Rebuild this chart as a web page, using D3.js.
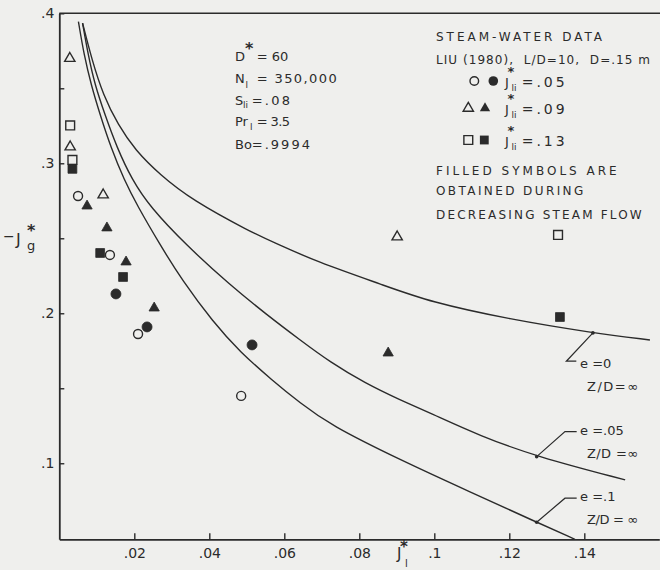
<!DOCTYPE html>
<html>
<head>
<meta charset="utf-8">
<script src="https://cdnjs.cloudflare.com/ajax/libs/d3/7.8.5/d3.min.js"></script>
<style>
body { margin: 0; background: #efefed; }
svg { display: block; }
text { font-family: "DejaVu Sans", "Liberation Sans", sans-serif; fill: #2b2b2b; }
</style>
</head>
<body>
<svg id="chart" width="660" height="570"></svg>
<script>
// axis ticks
var xTicks = [.02, .04, .06, .08, .1, .12, .14],
	yTicks = [.1, .15, .2, .25, .3, .35, .4],
	yLabelled = [.1, .2, .3, .4];

// model curves, [J_l*, -J_g*]
var curveE0 = [[.0062,.3935],[.0087,.3689],[.0117,.3455],[.0157,.3255],[.0202,.3089],[.0269,.2922],
	[.0354,.2755],[.0509,.2544],[.0575,.2469],[.0686,.2344],[.0863,.2189],[.0989,.2075],[.1200,.1960],
	[.1423,.1869],[.1575,.1822]];
var curveE05 = [[.0062,.3935],[.0077,.3722],[.0095,.3522],[.0122,.3322],[.0153,.3109],[.0194,.2889],
	[.0242,.2709],[.0338,.2455],[.0455,.2189],[.0554,.1989],[.0642,.1822],[.0722,.1675],[.0815,.1535],
	[.0909,.1422],[.0989,.1335],[.1122,.1182],[.1273,.1044],[.1509,.0889]];
var curveE10 = [[.0051,.3944],[.0066,.3722],[.0085,.3522],[.0109,.3322],[.0138,.3102],[.0173,.2889],
	[.0207,.2722],[.0269,.2455],[.0327,.2222],[.0410,.1942],[.0482,.1742],[.0567,.1555],[.0642,.1402],
	[.0722,.1255],[.0909,.1022],[.1095,.0809],[.1273,.0607],[.1375,.0493]];

// Liu (1980) steam-water data
var circOpen = [[.0050,.2782],[.0135,.2389],[.0210,.1862],[.0485,.1449]],
	circFilled = [[.0151,.2129],[.0234,.1909],[.0514,.1789]],
	triOpen = [[.0028,.3699],[.0029,.3109],[.0117,.2789],[.0901,.2509]],
	triFilled = [[.0074,.2715],[.0127,.2569],[.0178,.2342],[.0253,.2035],[.0877,.1735]],
	sqOpen = [[.0029,.3252],[.0035,.3022],[.1330,.2522]],
	sqFilled = [[.0035,.2963],[.0109,.2402],[.0170,.2242],[.1335,.1975]];

// where the curve labels point to
var labelPoints = [[.1423,.1869],[.1273,.1044],[.1273,.0607]],
	labelNames = ["e =0", "e =.05", "e =.1"];

var ink = "#2b2b2b", bg = "#efefed";

var svg = d3.select("#chart");

var x = d3.scaleLinear().domain([0, .16]).range([59.3, 659.3]),
	y = d3.scaleLinear().domain([.0493, .4]).range([539.3, 13.3]);

function fmt(d){
	return String(+d.toFixed(2)).replace(/^0/, "");
}

// x axis, ticks pointing up
var gx = svg.append("g")
	.attr("transform", "translate(0," + y(.0493) + ")")
	.call(d3.axisBottom(x).tickValues(xTicks).tickSizeInner(-6).tickSizeOuter(0).tickPadding(8).tickFormat(fmt));

// y axis, ticks pointing right
var gy = svg.append("g")
	.attr("transform", "translate(" + x(0) + ",0)")
	.call(d3.axisLeft(y).tickValues(yTicks).tickSizeInner(-5).tickSizeOuter(0).tickPadding(5)
		.tickFormat(function(d){ return yLabelled.some(function(v){ return Math.abs(v - d) < 1e-9; }) ? fmt(d) : ""; }));

[gx, gy].forEach(function(g){
	g.select(".domain").attr("stroke", ink).attr("stroke-width", 1.8);
	g.selectAll(".tick line").attr("stroke", ink).attr("stroke-width", 1.4);
	g.selectAll(".tick text").attr("fill", ink).style("font-size", "14px")
		.style("font-family", "'DejaVu Sans', sans-serif");
});
gx.selectAll(".tick text").attr("dy", "0.78em");

// top frame
svg.append("line")
	.attr("x1", x(0)).attr("x2", 660)
	.attr("y1", y(.4)).attr("y2", y(.4))
	.attr("stroke", ink).attr("stroke-width", 1.6);

// axis titles
svg.append("text").attr("x", 3).attr("y", 241).style("font-size", "14px").text("\u2212");
svg.append("text").attr("x", 16).attr("y", 245).style("font-size", "16px").text("J");
svg.append("text").attr("x", 27).attr("y", 236).style("font-size", "16px").style("font-weight", "bold").text("*");
svg.append("text").attr("x", 27).attr("y", 250).style("font-size", "13px").text("g");

svg.append("text").attr("x", 397).attr("y", 559).style("font-size", "15px").text("J");
svg.append("text").attr("x", 400).attr("y", 552).style("font-size", "15px").style("font-weight", "bold").text("*");
svg.append("text").attr("x", 405).attr("y", 567).style("font-size", "10px").text("l");

// curves
svg.append("clipPath").attr("id", "plot")
	.append("rect").attr("x", x(0)).attr("y", y(.4)).attr("width", 600).attr("height", y(.0493) - y(.4));

var line = d3.line()
	.x(function(d){ return x(d[0]); })
	.y(function(d){ return y(d[1]); })
	.curve(d3.curveBasis);

[curveE0, curveE05, curveE10].forEach(function(c){
	svg.append("path")
		.datum(c)
		.attr("clip-path", "url(#plot)")
		.attr("d", line)
		.attr("fill", "none")
		.attr("stroke", ink)
		.attr("stroke-width", 1.4);
});

// curve labels with leaders
var leaders = [[[-26.6, 28.3], [-16.6, 28.3]], [[28.3, -25], [40, -25]], [[28.3, -24], [40, -24]]],
	labelY = [368.3, 435, 501],
	zdText = ["Z/D=\u221e", "Z/D =\u221e", "Z/D = \u221e"];

labelPoints.forEach(function(p, i){
	var px = x(p[0]), py = y(p[1]);
	svg.append("circle").attr("cx", px).attr("cy", py).attr("r", 1.8).attr("fill", ink);
	svg.append("polyline")
		.attr("points", [[px, py], [px + leaders[i][0][0], py + leaders[i][0][1]], [px + leaders[i][1][0], py + leaders[i][1][1]]].join(" "))
		.attr("fill", "none").attr("stroke", ink).attr("stroke-width", 1.2);
	svg.append("text").attr("x", 580).attr("y", labelY[i]).style("font-size", "13px").text(labelNames[i]);
	svg.append("text").attr("x", 587).attr("y", labelY[i] + 22.5).style("font-size", "13px")
		.attr("textLength", 51).attr("lengthAdjust", "spacing").text(zdText[i]);
});

// data markers
var tri = d3.symbol().type(d3.symbolTriangle).size(46),
	sq = d3.symbol().type(d3.symbolSquare).size(78);

function drawCircles(data, filled){
	svg.append("g").selectAll("circle")
		.data(data).enter().append("circle")
		.attr("cx", function(d){ return x(d[0]); })
		.attr("cy", function(d){ return y(d[1]); })
		.attr("r", filled ? 5 : 4.5)
		.attr("fill", filled ? ink : bg)
		.attr("stroke", ink).attr("stroke-width", filled ? 0.8 : 1.4);
}

function drawSymbols(data, sym, filled){
	svg.append("g").selectAll("path")
		.data(data).enter().append("path")
		.attr("transform", function(d){ return "translate(" + x(d[0]) + "," + y(d[1]) + ")"; })
		.attr("d", sym)
		.attr("fill", filled ? ink : bg)
		.attr("stroke", ink).attr("stroke-width", filled ? 0.8 : 1.4);
}

drawCircles(circOpen, false);
drawCircles(circFilled, true);
drawSymbols(triOpen, tri, false);
drawSymbols(triFilled, tri, true);
drawSymbols(sqOpen, sq, false);
drawSymbols(sqFilled, sq, true);

// parameter block
function txt(xp, yp, s, size, len){
	var t = svg.append("text").attr("x", xp).attr("y", yp).style("font-size", size + "px").text(s);
	if(len) t.attr("textLength", len).attr("lengthAdjust", "spacing");
	return t;
}

txt(235, 61, "D", 13);
txt(245, 54, "*", 16).style("font-weight", "bold");
txt(256.7, 61, "= 60", 13, 31.6);
txt(235, 83, "N", 13);
txt(245.5, 88, "l", 9);
txt(256.7, 83, "= 350,000", 13, 80);
txt(235, 104.5, "S", 13);
txt(243, 108, "li", 9);
txt(251.7, 104.5, "=.08", 13, 38.3);
txt(235, 126, "Pr", 13);
txt(250, 130, "l", 9);
txt(256.7, 126, "= 3.5", 13, 33.3);
txt(235, 148.5, "Bo", 13);
txt(251.7, 148.5, "=.9994", 13, 58.3);

// legend
txt(436, 41, "STEAM-WATER DATA", 12, 166);
txt(436, 63.5, "LIU (1980),  L/D=10,  D=.15 m", 12, 214).style("white-space", "pre");

var legendRows = [
	{y: 81, base: 87.3, val: "=.05"},
	{y: 108.3, base: 114, val: "=.09"},
	{y: 140, base: 145.7, val: "=.13"}
];

svg.append("circle").attr("cx", 474.3).attr("cy", legendRows[0].y).attr("r", 4.3)
	.attr("fill", bg).attr("stroke", ink).attr("stroke-width", 1.4);
svg.append("circle").attr("cx", 493.3).attr("cy", legendRows[0].y).attr("r", 4.8).attr("fill", ink);
svg.append("path").attr("transform", "translate(468.3," + legendRows[1].y + ")").attr("d", tri)
	.attr("fill", bg).attr("stroke", ink).attr("stroke-width", 1.4);
svg.append("path").attr("transform", "translate(485," + legendRows[1].y + ")").attr("d", tri).attr("fill", ink);
svg.append("path").attr("transform", "translate(468.3," + legendRows[2].y + ")").attr("d", sq)
	.attr("fill", bg).attr("stroke", ink).attr("stroke-width", 1.4);
svg.append("path").attr("transform", "translate(484.3," + legendRows[2].y + ")").attr("d", sq).attr("fill", ink);

legendRows.forEach(function(r){
	txt(505, r.base, "J", 13);
	txt(507.5, r.base - 11, "*", 13).style("font-weight", "bold");
	txt(511.5, r.base + 4, "li", 9);
	txt(521.7, r.base, r.val, 14, 43);
});

txt(436, 174.5, "FILLED SYMBOLS ARE", 12, 180.7);
txt(436, 195, "OBTAINED DURING", 12, 147.3);
txt(436, 218.5, "DECREASING STEAM FLOW", 12, 205.7);
</script>
</body>
</html>
